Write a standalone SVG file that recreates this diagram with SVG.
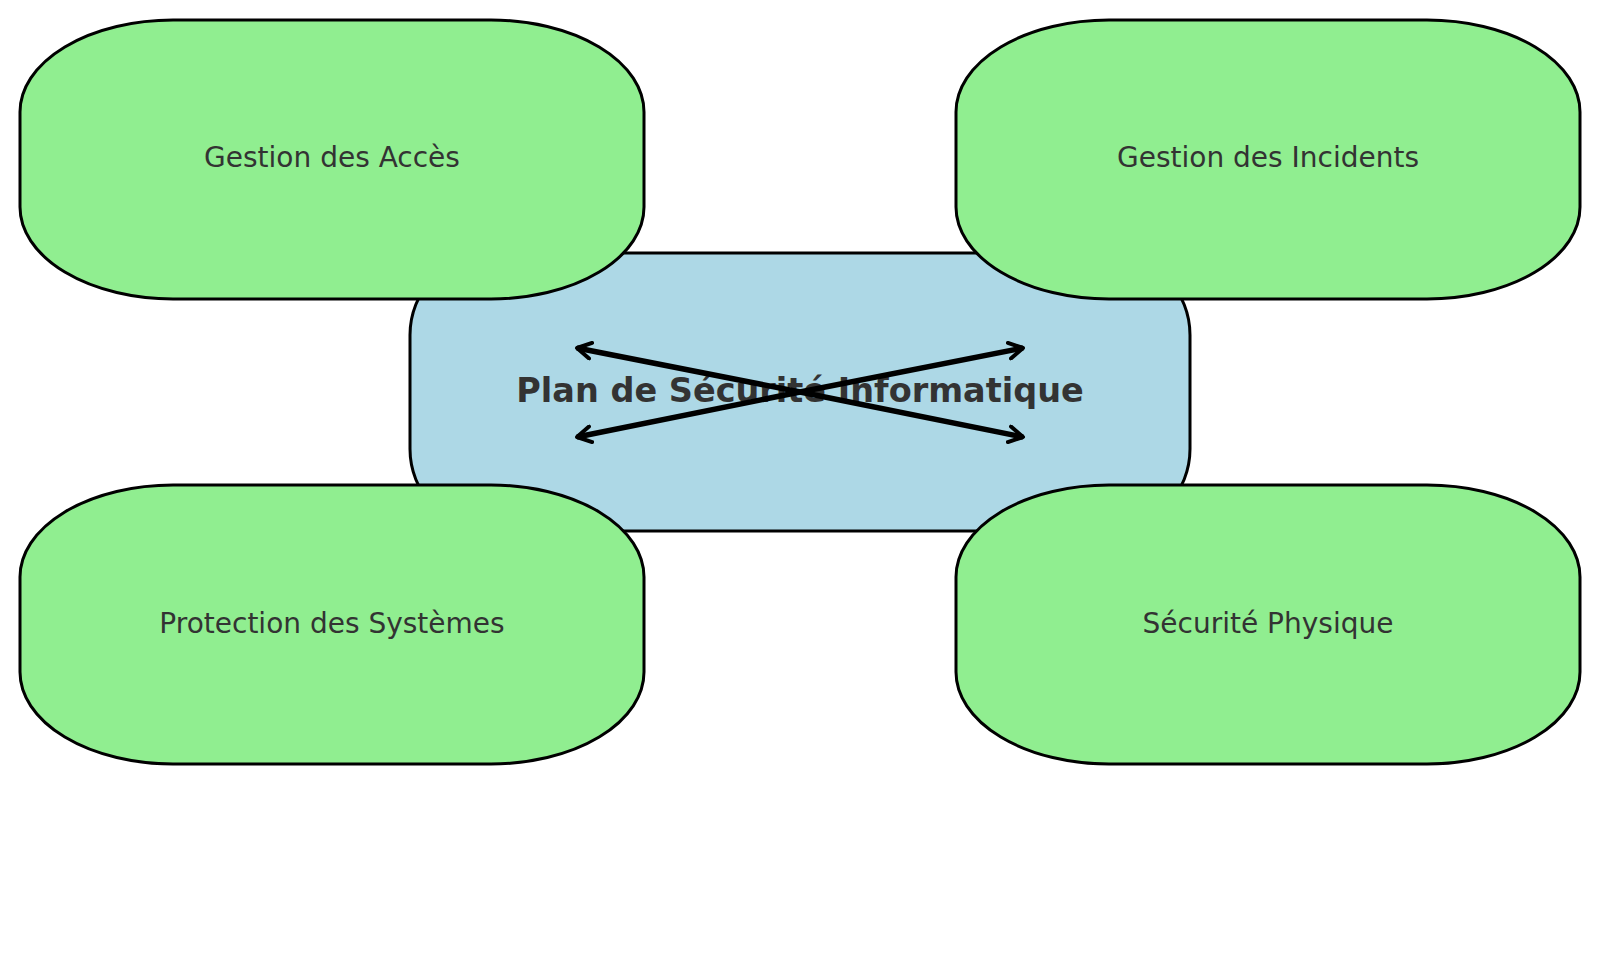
<svg xmlns="http://www.w3.org/2000/svg" width="1600" height="970" viewBox="0 0 1600 970">
<style>
.g{fill:#90ee90;stroke:#000;stroke-width:3}
.c{fill:#add8e6;stroke:#000;stroke-width:3}
.t{font-family:"DejaVu Sans",sans-serif;font-size:28px;fill:#333;text-anchor:middle;dominant-baseline:central}
.tb{font-family:"DejaVu Sans",sans-serif;font-size:33.5px;font-weight:bold;fill:#333;text-anchor:middle;dominant-baseline:central}
.a{stroke:#000;stroke-width:5.5;fill:none;marker-end:url(#m)}
</style>
<defs><marker id="m" viewBox="0 0 10 10" refX="8" refY="5" markerWidth="3.6" markerHeight="3.6" orient="auto" markerUnits="strokeWidth"><path d="M1,1 L8,5 L1,9" fill="none" stroke="#000" stroke-width="2" stroke-linecap="round" stroke-linejoin="round"/></marker></defs>
<g id="center"><rect class="c" x="410" y="253" width="780" height="278" rx="82" ry="82"/><text class="tb" x="800" y="390">Plan de Sécurité Informatique</text></g>
<g id="acces"><rect class="g" x="20" y="20" width="624" height="279" rx="153" ry="92"/><text class="t" x="332" y="157">Gestion des Accès</text></g>
<g id="incidents"><rect class="g" x="956" y="20" width="624" height="279" rx="153" ry="92"/><text class="t" x="1268" y="157">Gestion des Incidents</text></g>
<g id="systemes"><rect class="g" x="20" y="485" width="624" height="279" rx="153" ry="92"/><text class="t" x="332" y="623">Protection des Systèmes</text></g>
<g id="physique"><rect class="g" x="956" y="485" width="624" height="279" rx="153" ry="92"/><text class="t" x="1268" y="623">Sécurité Physique</text></g>
<g id="connectors">
<line class="a" x1="800" y1="392" x2="577" y2="348"/>
<line class="a" x1="800" y1="392" x2="1023" y2="348"/>
<line class="a" x1="800" y1="392" x2="577" y2="437"/>
<line class="a" x1="800" y1="392" x2="1023" y2="437"/>
</g>
</svg>
